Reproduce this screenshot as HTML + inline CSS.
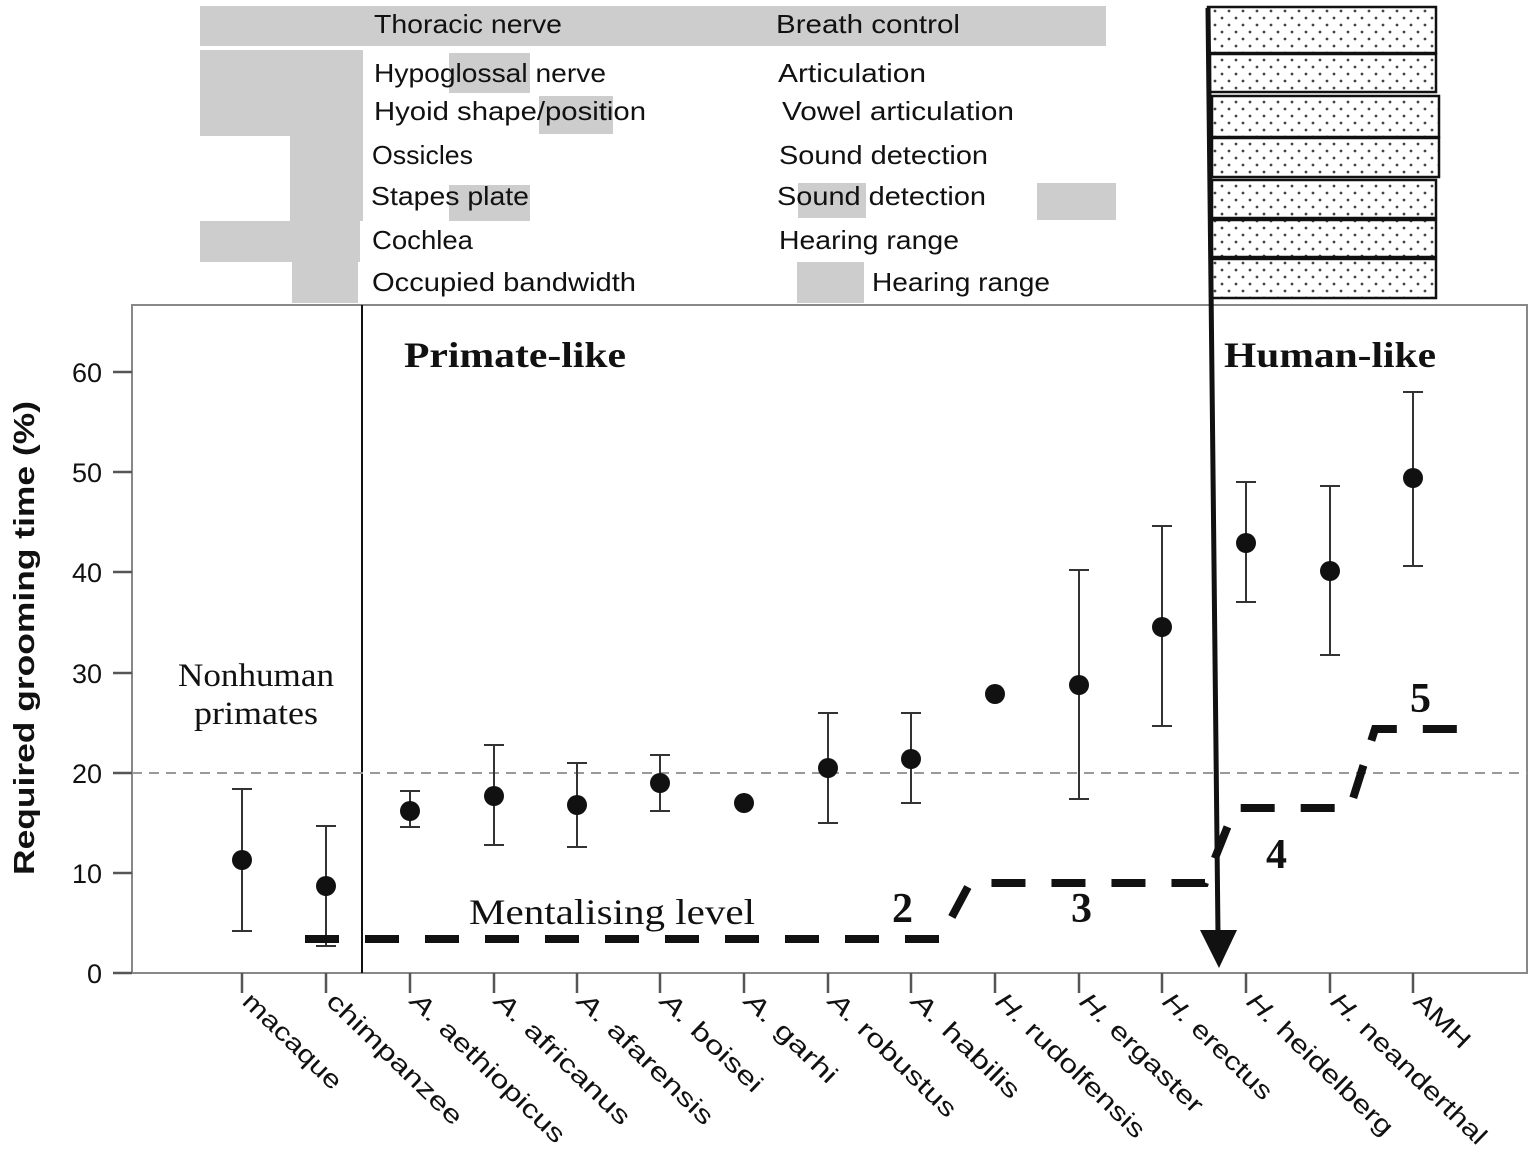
<!DOCTYPE html>
<html><head><meta charset="utf-8"><style>body{margin:0;background:#fff}svg{display:block}</style></head><body>
<svg width="1535" height="1167" viewBox="0 0 1535 1167" xmlns="http://www.w3.org/2000/svg">
<defs>
<pattern id="dots" width="14" height="14" patternUnits="userSpaceOnUse"><circle cx="4" cy="4" r="1.4" fill="#444"/><circle cx="11" cy="11" r="1.4" fill="#444"/></pattern>
</defs>
<g fill="#cdcdcd">
<rect x="200" y="6" width="906" height="40"/>
<rect x="200" y="50" width="163" height="86"/>
<rect x="290" y="136" width="73" height="85"/>
<rect x="200" y="221" width="160" height="41"/>
<rect x="292" y="262" width="66" height="41"/>
<rect x="449" y="53" width="81" height="40"/>
<rect x="539" y="96" width="74" height="38"/>
<rect x="449" y="185" width="81" height="36"/>
<rect x="798" y="183" width="68" height="35"/>
<rect x="1037" y="183" width="79" height="37"/>
<rect x="797" y="262" width="67" height="41"/>
</g>
<g font-family="Liberation Sans, sans-serif" font-size="26" fill="#111">
<text x="374" y="33" textLength="188" lengthAdjust="spacingAndGlyphs">Thoracic nerve</text><text x="776" y="33" textLength="184" lengthAdjust="spacingAndGlyphs">Breath control</text>
<text x="374" y="82" textLength="232" lengthAdjust="spacingAndGlyphs">Hypoglossal nerve</text><text x="778" y="82" textLength="148" lengthAdjust="spacingAndGlyphs">Articulation</text>
<text x="374" y="120" textLength="272" lengthAdjust="spacingAndGlyphs">Hyoid shape/position</text><text x="782" y="120" textLength="232" lengthAdjust="spacingAndGlyphs">Vowel articulation</text>
<text x="372" y="164" textLength="101" lengthAdjust="spacingAndGlyphs">Ossicles</text><text x="779" y="164" textLength="209" lengthAdjust="spacingAndGlyphs">Sound detection</text>
<text x="371" y="205" textLength="158" lengthAdjust="spacingAndGlyphs">Stapes plate</text><text x="777" y="205" textLength="209" lengthAdjust="spacingAndGlyphs">Sound detection</text>
<text x="372" y="249" textLength="101" lengthAdjust="spacingAndGlyphs">Cochlea</text><text x="779" y="249" textLength="180" lengthAdjust="spacingAndGlyphs">Hearing range</text>
<text x="372" y="291" textLength="264" lengthAdjust="spacingAndGlyphs">Occupied bandwidth</text><text x="872" y="291" textLength="178" lengthAdjust="spacingAndGlyphs">Hearing range</text>
</g>
<g stroke="#111" stroke-width="2.5" fill="url(#dots)">
<rect x="1208" y="7" width="228" height="46"/>
<rect x="1210" y="54" width="226" height="38"/>
<rect x="1212" y="96" width="227" height="41"/>
<rect x="1212" y="138" width="227" height="39"/>
<rect x="1212" y="180" width="224" height="38"/>
<rect x="1212" y="220" width="224" height="37"/>
<rect x="1212" y="259" width="224" height="39"/>
</g>
<rect x="132" y="305" width="1395" height="668" fill="none" stroke="#888" stroke-width="2"/>
<line x1="362" y1="305" x2="362" y2="973" stroke="#111" stroke-width="2"/>
<line x1="132" y1="773" x2="1527" y2="773" stroke="#999" stroke-width="2" stroke-dasharray="10,7"/>
<g stroke="#555" stroke-width="2.5">
<line x1="113" y1="973" x2="132" y2="973"/><line x1="113" y1="873" x2="132" y2="873"/><line x1="113" y1="773" x2="132" y2="773"/><line x1="113" y1="673" x2="132" y2="673"/><line x1="113" y1="572" x2="132" y2="572"/><line x1="113" y1="472" x2="132" y2="472"/><line x1="113" y1="372" x2="132" y2="372"/>
</g>
<g font-family="Liberation Sans, sans-serif" font-size="27" fill="#111" text-anchor="end">
<text x="102" y="983">0</text><text x="102" y="883">10</text><text x="102" y="783">20</text><text x="102" y="683">30</text><text x="102" y="582">40</text><text x="102" y="482">50</text><text x="102" y="382">60</text>
</g>
<text transform="translate(34,638) rotate(-90)" text-anchor="middle" font-family="Liberation Sans, sans-serif" font-size="29" font-weight="bold" fill="#111" textLength="474" lengthAdjust="spacingAndGlyphs">Required grooming time (%)</text>
<g stroke="#333" stroke-width="2" fill="none">
<path d="M242 931V789M232 931h20M232 789h20"/>
<path d="M326 946V826M316 946h20M316 826h20"/>
<path d="M410 827V791M400 827h20M400 791h20"/>
<path d="M494 845V745M484 845h20M484 745h20"/>
<path d="M577 847V763M567 847h20M567 763h20"/>
<path d="M660 811V755M650 811h20M650 755h20"/>
<path d="M828 823V713M818 823h20M818 713h20"/>
<path d="M911 803V713M901 803h20M901 713h20"/>
<path d="M1079 799V570M1069 799h20M1069 570h20"/>
<path d="M1162 726V526M1152 726h20M1152 526h20"/>
<path d="M1246 602V482M1236 602h20M1236 482h20"/>
<path d="M1330 655V486M1320 655h20M1320 486h20"/>
<path d="M1413 566V392M1403 566h20M1403 392h20"/>
</g>
<g fill="#111">
<circle cx="242" cy="860" r="10"/><circle cx="326" cy="886" r="10"/><circle cx="410" cy="811" r="10"/><circle cx="494" cy="796" r="10"/><circle cx="577" cy="805" r="10"/><circle cx="660" cy="783" r="10"/><circle cx="744" cy="803" r="10"/><circle cx="828" cy="768" r="10"/><circle cx="911" cy="759" r="10"/><circle cx="995" cy="694" r="10"/><circle cx="1079" cy="685" r="10"/><circle cx="1162" cy="627" r="10"/><circle cx="1246" cy="543" r="10"/><circle cx="1330" cy="571" r="10"/><circle cx="1413" cy="478" r="10"/>
</g>
<path d="M305 939H940L970 883H1205L1235 808H1350L1375 729H1470" fill="none" stroke="#111" stroke-width="8" stroke-dasharray="34,26"/>
<line x1="1208" y1="8" x2="1218" y2="935" stroke="#111" stroke-width="5"/>
<polygon points="1200,930 1237,930 1219,968" fill="#111"/>
<g stroke="#555" stroke-width="2.5">
<path d="M242 973v20M326 973v20M410 973v20M494 973v20M577 973v20M660 973v20M744 973v20M828 973v20M911 973v20M995 973v20M1079 973v20M1162 973v20M1246 973v20M1330 973v20M1413 973v20"/>
</g>
<g font-family="Liberation Sans, sans-serif" font-size="25" fill="#111">
<text transform="translate(241,1003) rotate(44)" textLength="127" lengthAdjust="spacingAndGlyphs">macaque</text>
<text transform="translate(325,1003) rotate(44)" textLength="178" lengthAdjust="spacingAndGlyphs">chimpanzee</text>
<text transform="translate(409,1003) rotate(44)" textLength="204" lengthAdjust="spacingAndGlyphs"><tspan font-style="italic">A.</tspan> aethiopicus</text>
<text transform="translate(493,1003) rotate(44)" textLength="178" lengthAdjust="spacingAndGlyphs"><tspan font-style="italic">A.</tspan> africanus</text>
<text transform="translate(576,1003) rotate(44)" textLength="178" lengthAdjust="spacingAndGlyphs"><tspan font-style="italic">A.</tspan> afarensis</text>
<text transform="translate(659,1003) rotate(44)" textLength="131" lengthAdjust="spacingAndGlyphs"><tspan font-style="italic">A.</tspan> boisei</text>
<text transform="translate(743,1003) rotate(44)" textLength="118" lengthAdjust="spacingAndGlyphs"><tspan font-style="italic">A.</tspan> garhi</text>
<text transform="translate(827,1003) rotate(44)" textLength="167" lengthAdjust="spacingAndGlyphs"><tspan font-style="italic">A.</tspan> robustus</text>
<text transform="translate(910,1003) rotate(44)" textLength="140" lengthAdjust="spacingAndGlyphs"><tspan font-style="italic">A.</tspan> habilis</text>
<text transform="translate(994,1003) rotate(44)" textLength="197" lengthAdjust="spacingAndGlyphs"><tspan font-style="italic">H.</tspan> rudolfensis</text>
<text transform="translate(1078,1003) rotate(44)" textLength="161" lengthAdjust="spacingAndGlyphs"><tspan font-style="italic">H.</tspan> ergaster</text>
<text transform="translate(1161,1003) rotate(44)" textLength="142" lengthAdjust="spacingAndGlyphs"><tspan font-style="italic">H.</tspan> erectus</text>
<text transform="translate(1245,1003) rotate(44)" textLength="193" lengthAdjust="spacingAndGlyphs"><tspan font-style="italic">H.</tspan> heidelberg</text>
<text transform="translate(1329,1003) rotate(44)" textLength="206" lengthAdjust="spacingAndGlyphs"><tspan font-style="italic">H.</tspan> neanderthal</text>
<text transform="translate(1412,1003) rotate(44)" textLength="68" lengthAdjust="spacingAndGlyphs">AMH</text>
</g>
<g font-family="Liberation Serif, serif" fill="#111">
<text x="404" y="367" font-size="36" font-weight="bold" textLength="222" lengthAdjust="spacingAndGlyphs">Primate-like</text>
<text x="1224" y="367" font-size="36" font-weight="bold" textLength="212" lengthAdjust="spacingAndGlyphs">Human-like</text>
<text x="178" y="686" font-size="33" textLength="156" lengthAdjust="spacingAndGlyphs">Nonhuman</text>
<text x="194" y="724" font-size="33" textLength="124" lengthAdjust="spacingAndGlyphs">primates</text>
<text x="469" y="924" font-size="36" textLength="286" lengthAdjust="spacingAndGlyphs">Mentalising level</text>
<text x="892" y="922" font-size="42" font-weight="bold">2</text>
<text x="1071" y="922" font-size="42" font-weight="bold">3</text>
<text x="1266" y="868" font-size="42" font-weight="bold">4</text>
<text x="1410" y="712" font-size="42" font-weight="bold">5</text>
</g>
</svg>
</body></html>
